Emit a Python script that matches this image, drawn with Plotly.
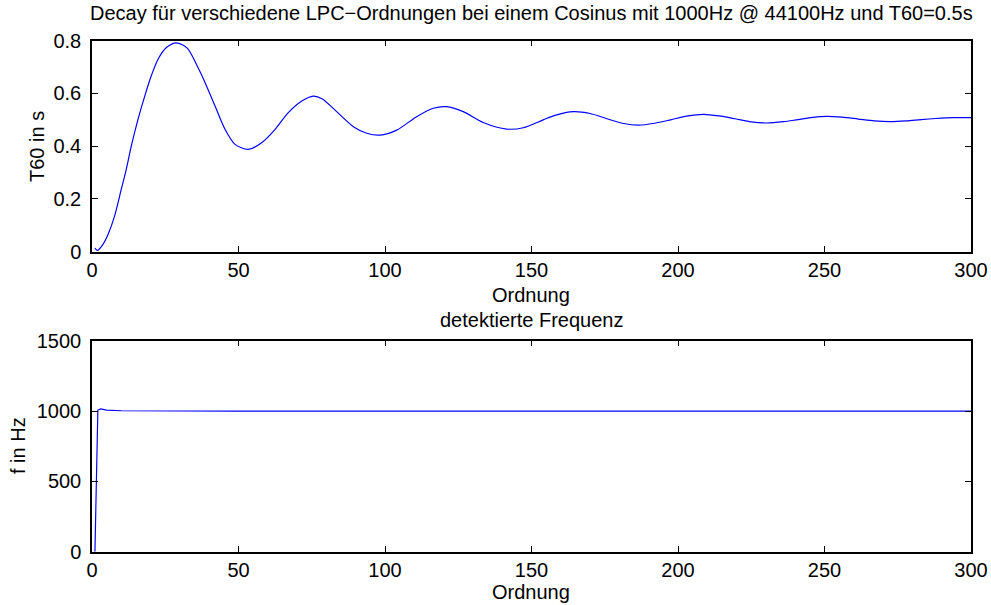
import plotly.graph_objects as go

# LPC order vs. estimated decay time T60 (s)
order_t60 = [1, 1.8, 3.75, 5.5, 7.7, 10, 11.7, 13.4, 15.7, 18, 20.2, 22.5, 25.4, 28.8,
             32.5, 36, 38.6, 42, 45.4, 48.8, 53.3, 57.9, 62.5, 67, 71.6, 75.5,
             78.5, 83.5, 89.2, 93.8, 98.3, 104, 110.8, 116.5, 121, 126.7, 133.5,
             141.5, 147.2, 154, 158, 164.3, 170, 175.5, 181, 186.5, 192, 197.5, 203,
             208.7, 214, 219.5, 225, 230.3, 236, 241, 246, 250.8, 256, 261.5, 267,
             272.3, 278, 283, 288, 294, 300]
t60 = [0.014, 0.005, 0.028, 0.066, 0.135, 0.237, 0.312, 0.40, 0.502, 0.59, 0.666, 0.729,
       0.774, 0.792, 0.772, 0.702, 0.641, 0.552, 0.464, 0.407, 0.388, 0.413, 0.464,
       0.527, 0.571, 0.590, 0.580, 0.531, 0.474, 0.449, 0.442, 0.461, 0.512, 0.544,
       0.550, 0.531, 0.490, 0.465, 0.470, 0.500, 0.517, 0.531, 0.524, 0.505, 0.487,
       0.480, 0.487, 0.500, 0.514, 0.521, 0.515, 0.504, 0.492, 0.488, 0.493, 0.501,
       0.509, 0.513, 0.510, 0.503, 0.496, 0.493, 0.496, 0.501, 0.505, 0.508, 0.508]

# LPC order vs. detected frequency (Hz)
order_f = [1, 2, 3, 5, 10, 20, 50, 100, 150, 200, 250, 300]
freq = [0, 1007, 1015, 1006, 1002, 1001, 1000, 1000, 1000, 1000, 1000, 1000]

x_ticks = [0, 50, 100, 150, 200, 250, 300]
t60_ticks = [0, 0.2, 0.4, 0.6, 0.8]
t60_tick_text = ["0", "0.2", "0.4", "0.6", "0.8"]
f_ticks = [0, 500, 1000, 1500]

FONT = "Liberation Sans, Arial, sans-serif"
FS = 20
W, H = 991, 605
x_dom = [92 / W, 971 / W]
top_dom = [1 - 251.7 / H, 1 - 40.7 / H]
bot_dom = [1 - 551.7 / H, 1 - 340.7 / H]

fig = go.Figure()
fig.add_trace(go.Scatter(x=order_t60, y=t60, mode="lines",
                         line=dict(color="#0000ff", width=1.2, shape="spline", smoothing=0.8),
                         xaxis="x", yaxis="y", showlegend=False))
fig.add_trace(go.Scatter(x=order_f, y=freq, mode="lines", line=dict(color="#0000ff", width=1.2),
                         xaxis="x2", yaxis="y2", showlegend=False))

ax_common = dict(showgrid=False, zeroline=False, showline=True, linecolor="black", linewidth=1.5,
                 mirror="ticks", ticks="inside", ticklen=6, tickcolor="black", tickwidth=1,
                 automargin=False,
                 tickfont=dict(family=FONT, size=FS, color="black"))

fig.update_layout(
    width=W, height=H, margin=dict(l=0, r=0, t=0, b=0, pad=0),
    paper_bgcolor="white", plot_bgcolor="white",
    xaxis=dict(domain=x_dom, range=[0, 300], tickvals=x_ticks, anchor="y", **ax_common),
    yaxis=dict(domain=top_dom, range=[0, 0.8], tickvals=t60_ticks, ticktext=t60_tick_text,
               anchor="x", ticklabelstandoff=5, **ax_common),
    xaxis2=dict(domain=x_dom, range=[0, 300], tickvals=x_ticks, anchor="y2", **ax_common),
    yaxis2=dict(domain=bot_dom, range=[0, 1500], tickvals=f_ticks, anchor="x2",
                ticklabelstandoff=5, **ax_common),
)

def label(text, x, y, angle=0):
    fig.add_annotation(text=text, x=x / W, y=1 - y / H, xref="paper", yref="paper",
                       showarrow=False, textangle=angle, xanchor="center", yanchor="middle",
                       font=dict(family=FONT, size=FS, color="black"))

label("Decay für verschiedene LPC−Ordnungen bei einem Cosinus mit 1000Hz @ 44100Hz und T60=0.5s", 531, 13)
label("Ordnung", 531, 295)
label("detektierte Frequenz", 531, 320)
label("Ordnung", 531, 592)
label("T60 in s", 37, 147, -90)
label("f in Hz", 18, 446, -90)

fig.write_html("out.html")
